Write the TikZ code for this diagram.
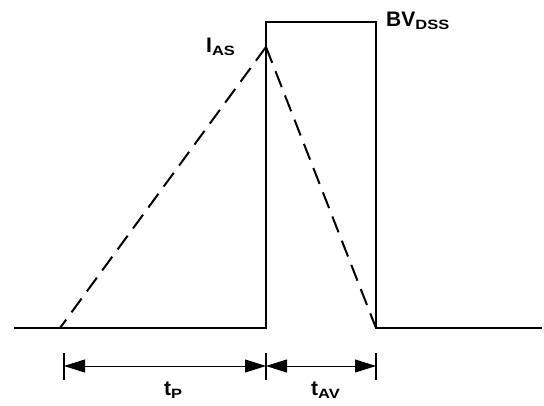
\documentclass[tikz,border=0pt]{standalone}
\usepackage{fontspec}
\setmainfont{Liberation Sans}
\usetikzlibrary{arrows.meta, positioning}

\newcommand{\sublbl}[2]{\textbf{\fontsize{21}{25}\selectfont #1}\raisebox{-3.3pt}{\scalebox{1.22}[1]{\textbf{\fontsize{13.5}{16}\selectfont #2}}}}

\begin{document}
\begin{tikzpicture}[x=1pt, y=-1pt, >={Triangle[length=21pt, width=13pt]},
    wave/.style={line width=2.2pt, line join=miter},
    ramp/.style={line width=2pt, dash pattern=on 17pt off 9pt},
    tick/.style={line width=2pt},
    dim/.style={<->, line width=1pt}]
    \useasboundingbox (0,0) rectangle (544,405);

    % Waveform points
    \coordinate (B0) at (14,328);
    \coordinate (R0) at (60,328);
    \coordinate (Up) at (266,328);
    \coordinate (TopL) at (266,22);
    \coordinate (TopR) at (376,22);
    \coordinate (Dn) at (376,328);
    \coordinate (B1) at (542,328);
    \coordinate (Pk) at (266,47);

    % Voltage pulse
    \draw [wave] (B0) -- (Up) -- (TopL) -- (TopR) -- (Dn) -- (B1);

    % Current ramp
    \draw [ramp] (Pk) -- (R0);
    \draw [ramp] (Pk) -- (Dn);

    % Labels
    \node (IAS) [anchor=base west, inner sep=0pt] at (206,52) {\sublbl{I}{AS}};
    \node (BVDSS) [anchor=base west, inner sep=0pt] at (386,26) {\sublbl{BV}{DSS}};

    % Time markers
    \coordinate (TkA) at (64,366);
    \coordinate (TkB) at (266,366);
    \coordinate (TkC) at (376,366);
    \draw [tick] ([yshift=-14pt]TkA) -- ([yshift=13pt]TkA);
    \draw [tick] ([yshift=-14pt]TkB) -- ([yshift=13pt]TkB);
    \draw [tick] ([yshift=-14pt]TkC) -- ([yshift=13pt]TkC);
    \draw [dim] (TkA) -- (TkB);
    \draw [dim] (TkB) -- (TkC);

    \node (tP) [anchor=base west, inner sep=0pt] at (164,395) {\sublbl{t}{P}};
    \node (tAV) [anchor=base west, inner sep=0pt] at (311,395) {\sublbl{t}{AV}};
\end{tikzpicture}
\end{document}
